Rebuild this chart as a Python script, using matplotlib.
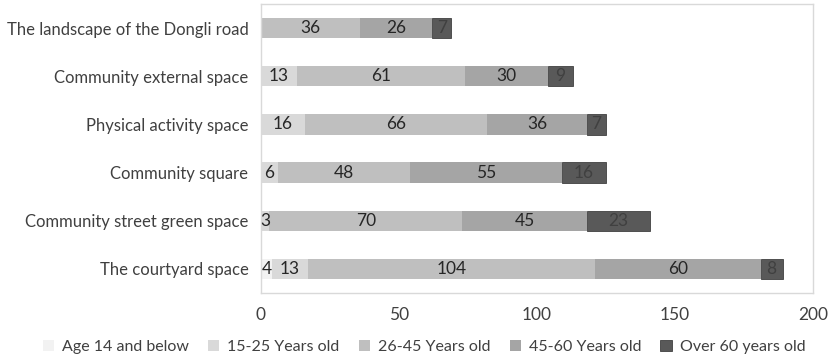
import numpy as np
import matplotlib
matplotlib.use("Agg")
import matplotlib.pyplot as plt

plt.rcParams['font.family'] = ['Lato', 'DejaVu Sans']

categories = ["The courtyard space", "Community street green space", "Community square",
              "Physical activity space", "Community external space",
              "The landscape of the Dongli road"]
series_names = ["Age 14 and below", "15-25 Years old", "26-45 Years old",
                "45-60 Years old", "Over 60 years old"]
age_14_below = [4, 0, 0, 0, 0, 0]
age_15_25 = [13, 3, 6, 16, 13, 0]
age_26_45 = [104, 70, 48, 66, 61, 36]
age_45_60 = [60, 45, 55, 36, 30, 26]
over_60 = [8, 23, 16, 7, 9, 7]
x_ticks = [0, 50, 100, 150, 200]

colors = ["#f2f2f2", "#d9d9d9", "#bfbfbf", "#a5a5a5", "#595959"]
label_colors = ["#262626", "#262626", "#262626", "#262626", "#404040"]

fig = plt.figure(figsize=(8.29, 3.64), dpi=100)
ax = fig.add_axes([261/829, 1-293/364, (813-261)/829, (293-4)/364])

y = np.arange(len(categories))
left = np.zeros(len(categories))
all_series = [age_14_below, age_15_25, age_26_45, age_45_60, over_60]
for i, vals in enumerate(all_series):
    vals = np.array(vals)
    ec = "#404040" if i == 4 else "none"
    ax.barh(y, vals, left=left, height=0.42, color=colors[i],
            edgecolor=ec, linewidth=0.6, label=series_names[i])
    for j, v in enumerate(vals):
        if v > 0:
            ax.text(left[j] + v/2, y[j], str(v), ha="center", va="center",
                    fontsize=12.5, color=label_colors[i])
    left = left + vals

ax.set_xlim(0, 200)
ax.set_ylim(-0.5, 5.5)
ax.set_xticks(x_ticks)
ax.set_yticks(y)
ax.set_yticklabels(categories, fontsize=12, color="#404040")
ax.tick_params(axis="x", labelsize=12.5, labelcolor="#404040", length=0, pad=10)
ax.tick_params(axis="y", length=0, pad=9)
for s in ax.spines.values():
    s.set_color("#d9d9d9")
    s.set_linewidth(1)

fig.legend(loc="center", bbox_to_anchor=(424/829, 1-347/364), ncol=5, frameon=False,
           fontsize=11.5, handlelength=0.7, handleheight=0.7, columnspacing=1.2,
           handletextpad=0.5, labelcolor="#404040")

fig.savefig("out.png", dpi=100)
